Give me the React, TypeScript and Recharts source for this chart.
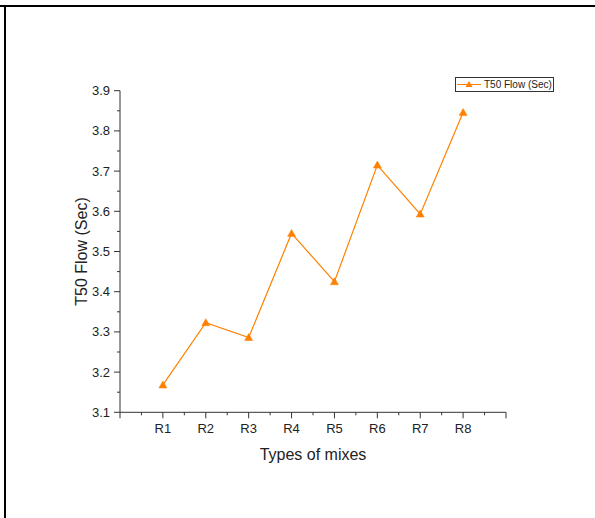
import { LineChart, Line, XAxis, YAxis, Legend } from "recharts"

const mixes = ["R1", "R2", "R3", "R4", "R5", "R6", "R7", "R8"]
const t50Flow = [3.168, 3.323, 3.286, 3.545, 3.425, 3.715, 3.593, 3.846]
const seriesName = "T50 Flow (Sec)"

const yTicks = [3.1, 3.15, 3.2, 3.25, 3.3, 3.35, 3.4, 3.45, 3.5, 3.55, 3.6, 3.65, 3.7, 3.75, 3.8, 3.85, 3.9]
const xTicks = [0, 0.5, 1, 1.5, 2, 2.5, 3, 3.5, 4, 4.5, 5, 5.5, 6, 6.5, 7, 7.5, 8, 8.5, 9]

const data = mixes.map((name, i) => ({ x: i + 1, name, flow: t50Flow[i] }))

const FONT = "'Liberation Sans', Arial, sans-serif"
const ORANGE = "#FF8000"
const AXIS = "#333"

function XTick(props: any) {
  const { x, y, payload } = props
  const v = payload.value
  const major = Number.isInteger(v)
  const label = major && v >= 1 && v <= mixes.length ? mixes[v - 1] : ""
  return (
    <g>
      <line x1={x} y1={y} x2={x} y2={y + (major ? 6 : 3)} stroke={AXIS} strokeWidth={1} />
      {label && (
        <text x={x} y={y + 21} textAnchor="middle" fontSize={13} fontFamily={FONT} fill="#222">
          {label}
        </text>
      )}
    </g>
  )
}

function YTick(props: any) {
  const { x, y, payload } = props
  const v = payload.value
  const major = Math.round(v * 100) % 10 === 0
  return (
    <g>
      <line x1={x} y1={y} x2={x - (major ? 6 : 3)} y2={y} stroke={AXIS} strokeWidth={1} />
      {major && (
        <text x={x - 10} y={y + 4.5} textAnchor="end" fontSize={13} fontFamily={FONT} fill="#222">
          {v.toFixed(1)}
        </text>
      )}
    </g>
  )
}

function Triangle(props: any) {
  const { cx, cy, index } = props
  if (cx == null || cy == null) return <g key={index} />
  return (
    <path
      key={index}
      d={`M${cx},${cy - 4} L${cx - 4},${cy + 3} L${cx + 4},${cy + 3} Z`}
      fill={ORANGE}
      stroke={ORANGE}
      strokeWidth={0.5}
    />
  )
}

function YTitle(props: any) {
  const vb = props.viewBox || {}
  const cx = vb.x + vb.width - 39
  const cy = vb.y + vb.height / 2
  return (
    <text
      x={cx}
      y={cy}
      transform={`rotate(-90 ${cx} ${cy})`}
      textAnchor="middle"
      dominantBaseline="central"
      fontSize={16}
      fontFamily={FONT}
      fill="#222"
    >
      {seriesName}
    </text>
  )
}

function XTitle(props: any) {
  const vb = props.viewBox || {}
  return (
    <text
      x={vb.x + vb.width / 2}
      y={vb.y + 48}
      textAnchor="middle"
      fontSize={16}
      fontFamily={FONT}
      fill="#222"
    >
      Types of mixes
    </text>
  )
}

function LegendBox() {
  return (
    <div
      style={{
        border: "1px solid #333",
        width: 97,
        height: 13,
        display: "flex",
        alignItems: "center",
        background: "#fff",
        fontFamily: FONT,
        fontSize: 10,
        color: "#222",
        lineHeight: "13px"
      }}
    >
      <svg width={28} height={13}>
        <line x1={1} y1={6.5} x2={25} y2={6.5} stroke={ORANGE} strokeWidth={1} />
        <path d="M13,3 L9.5,9 L16.5,9 Z" fill={ORANGE} />
      </svg>
      <span>{seriesName}</span>
    </div>
  )
}

export default function App() {
  return (
    <div style={{ position: "absolute", left: 0, top: 0, width: 595, height: 518, background: "#fff" }}>
      <div style={{ position: "absolute", left: 0, top: 5, width: 595, height: 2, background: "#000" }} />
      <div style={{ position: "absolute", left: 4, top: 5, width: 2, height: 513, background: "#000" }} />

      <LineChart
        width={595}
        height={518}
        data={data}
        margin={{ top: 90.7, right: 89, bottom: 75.7, left: 60 }}
      >
        <XAxis
          type="number"
          dataKey="x"
          domain={[0, 9]}
          ticks={xTicks}
          interval={0}
          height={30}
          tickSize={0}
          tickMargin={0}
          tickLine={false}
          axisLine={{ stroke: AXIS, strokeWidth: 1 }}
          tick={<XTick />}
          label={<XTitle />}
        />
        <YAxis
          type="number"
          domain={[3.1, 3.9]}
          ticks={yTicks}
          interval={0}
          width={60}
          tickSize={0}
          tickMargin={0}
          tickLine={false}
          axisLine={{ stroke: AXIS, strokeWidth: 1 }}
          tick={<YTick />}
          label={<YTitle />}
          allowDataOverflow
        />
        <Legend
          layout="horizontal"
          verticalAlign="middle"
          align="center"
          content={() => <LegendBox />}
          wrapperStyle={{ left: 455, top: 77, width: "auto" }}
        />
        <Line
          type="linear"
          dataKey="flow"
          name={seriesName}
          stroke={ORANGE}
          strokeWidth={1.2}
          dot={(p: any) => <Triangle key={p.index} {...p} />}
          activeDot={false}
          isAnimationActive={false}
        />
      </LineChart>
    </div>
  )
}
